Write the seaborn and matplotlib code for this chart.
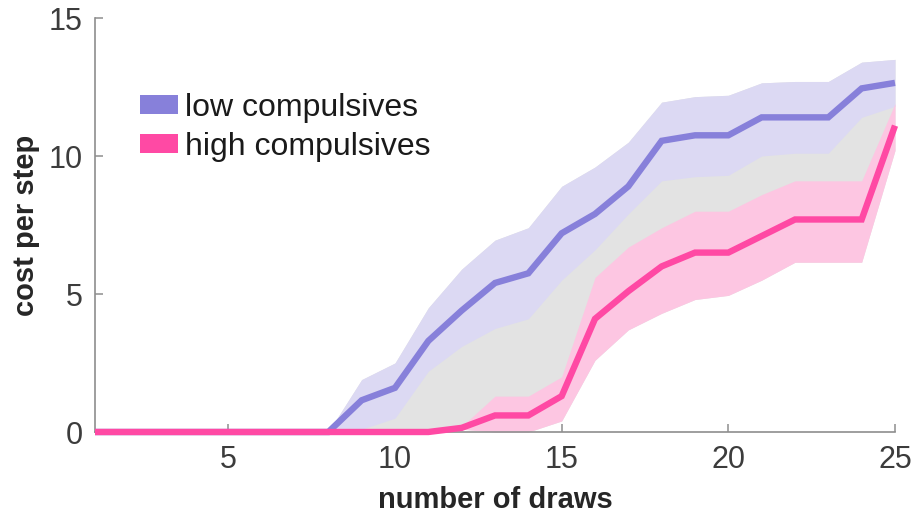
import numpy as np
import pandas as pd
import matplotlib
matplotlib.use("Agg")
import matplotlib.pyplot as plt
from matplotlib.patches import Patch
import seaborn as sns

# number of draws before choosing
draws = list(range(1, 26))

# low compulsives: mean cost per step and shaded interval
low_mean = [0, 0, 0, 0, 0, 0, 0, 0, 1.15, 1.6, 3.3, 4.4, 5.4, 5.75, 7.2, 7.9,
            8.9, 10.55, 10.75, 10.75, 11.4, 11.4, 11.4, 12.45, 12.65]
low_upper = [0, 0, 0, 0, 0, 0, 0, 0, 1.9, 2.5, 4.5, 5.9, 6.95, 7.4, 8.9, 9.6,
             10.5, 11.95, 12.15, 12.2, 12.65, 12.7, 12.7, 13.4, 13.5]
low_lower = [0, 0, 0, 0, 0, 0, 0, 0, 0.1, 0.5, 2.2, 3.1, 3.75, 4.1, 5.5, 6.6,
             7.9, 9.1, 9.25, 9.3, 10.0, 10.1, 10.1, 11.4, 11.8]

# high compulsives: mean cost per step and shaded interval
high_mean = [0, 0, 0, 0, 0, 0, 0, 0, 0, 0, 0, 0.15, 0.6, 0.6, 1.3, 4.1,
             5.1, 6.0, 6.5, 6.5, 7.1, 7.7, 7.7, 7.7, 11.1]
high_upper = [0, 0, 0, 0, 0, 0, 0, 0, 0, 0, 0, 0.2, 1.3, 1.3, 2.0, 5.6,
              6.7, 7.4, 8.0, 8.0, 8.6, 9.1, 9.1, 9.1, 11.9]
high_lower = [0, 0, 0, 0, 0, 0, 0, 0, 0, 0, 0, 0.1, 0, 0, 0.4, 2.6,
              3.7, 4.3, 4.8, 4.95, 5.5, 6.15, 6.15, 6.15, 10.2]

group_names = ["low compulsives", "high compulsives"]
x_ticks = [5, 10, 15, 20, 25]
y_ticks = [0, 5, 10, 15]

line_colors = {"low compulsives": "#8780da", "high compulsives": "#ff49a4"}
band_colors = {"low compulsives": "#dcd9f3", "high compulsives": "#fdc6e2"}
gap_color = "#e3e3e3"

sns.set_theme(style="white")
plt.rcParams["font.family"] = ["Liberation Sans", "DejaVu Sans"]

df = pd.DataFrame({
    "draws": draws * 2,
    "cost": low_mean + high_mean,
    "group": [group_names[0]] * len(draws) + [group_names[1]] * len(draws),
})

fig = plt.figure(figsize=(9.18, 5.12), dpi=100)
ax = fig.add_axes([95 / 918, 80 / 512, 800 / 918, 414 / 512])

x = np.array(draws, dtype=float)
# grey region spanning both intervals, then each group's interval on top
ax.fill_between(x, high_lower, low_upper, color=gap_color, lw=0, zorder=1)
ax.fill_between(x, low_lower, low_upper, color=band_colors[group_names[0]], lw=0, zorder=2)
ax.fill_between(x, high_lower, high_upper, color=band_colors[group_names[1]], lw=0, zorder=3)

sns.lineplot(data=df, x="draws", y="cost", hue="group", hue_order=group_names,
             palette=line_colors, linewidth=4.6, legend=False, ax=ax,
             estimator=None, sort=False, zorder=4)
for ln in ax.lines:
    ln.set_clip_on(False)
    ln.set_solid_capstyle("butt")
    ln.set_solid_joinstyle("miter")

ax.set_xlim(1, 25)
ax.set_ylim(0, 15)
ax.set_xticks(x_ticks)
ax.set_yticks(y_ticks)

for side in ["top", "right"]:
    ax.spines[side].set_visible(False)
for side in ["left", "bottom"]:
    ax.spines[side].set_color("#8e8e8e")
    ax.spines[side].set_linewidth(1.2)
    ax.spines[side].set_zorder(3.5)

ax.tick_params(axis="both", direction="in", length=6, width=1.1, color="#8e8e8e",
               labelsize=22, labelcolor="#3c3c3c", pad=9, left=True, bottom=True)

ax.set_xlabel("number of draws", fontsize=21, fontweight="bold", color="#262626", labelpad=8)
ax.set_ylabel("cost per step", fontsize=21, fontweight="bold", color="#262626", labelpad=6)

handles = [Patch(facecolor=line_colors[g], edgecolor="none") for g in group_names]
leg = ax.legend(handles, group_names, loc="upper left", bbox_to_anchor=(0.056, 0.82),
                frameon=False, fontsize=23, handlelength=1.2, handleheight=0.55,
                handletextpad=0.22, labelspacing=0.3, borderpad=0, borderaxespad=0)
for t in leg.get_texts():
    t.set_color("#1a1a1a")

fig.savefig("out.png", dpi=100)
